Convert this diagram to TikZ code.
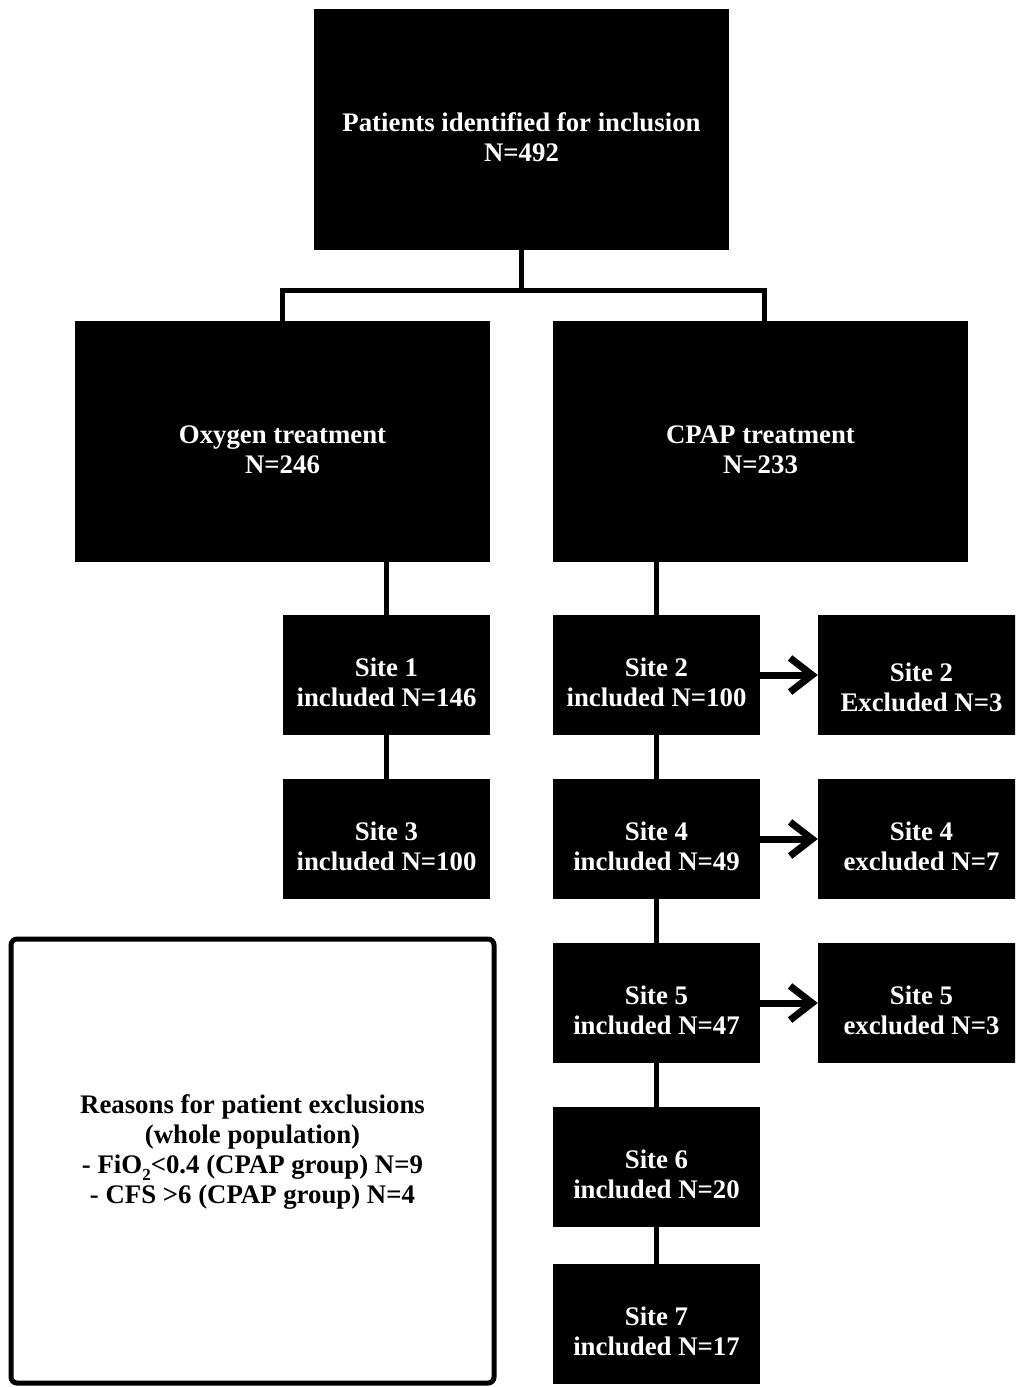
\documentclass[tikz,border=0pt]{standalone}
\usepackage{fontspec}
\setmainfont{Liberation Serif}
\usetikzlibrary{arrows.meta}

\begin{document}
\begin{tikzpicture}[x=1pt, y=-1pt,
	blackbox/.style={fill=black, text=white, align=center, inner sep=0pt,
		font=\bfseries\fontsize{26.8}{30}\selectfont, text height=63pt, text depth=0pt},
	bigbox/.style={blackbox, minimum width=415pt, minimum height=241pt},
	sitebox/.style={blackbox, minimum width=207pt, minimum height=120pt},
	link/.style={draw=black, line width=5pt},
	exclarrow/.style={draw=black, line width=7pt, -{Straight Barb[length=22pt,width=34pt]}}]
		\path[use as bounding box, clip] (0,0) rectangle (1015,1387);
		% groups
		\node[bigbox] (patients) at (521.5,129.5) {Patients identified for inclusion\\N=492};
		\node[bigbox] (oxygen) at (282.5,441.5) {Oxygen treatment\\N=246};
		\node[bigbox] (cpap) at (760.5,441.5) {CPAP treatment\\N=233};
		\coordinate (split) at (524,290);
		% sites
		\node[sitebox] (site1) at (386.5,675) {Site 1\\included N=146};
		\node[sitebox] (site3) at (386.5,839) {Site 3\\included N=100};
		\node[sitebox] (site2) at (656.5,675) {Site 2\\included N=100};
		\node[sitebox] (site4) at (656.5,839) {Site 4\\included N=49};
		\node[sitebox] (site5) at (656.5,1003) {Site 5\\included N=47};
		\node[sitebox] (site6) at (656.5,1167) {Site 6\\included N=20};
		\node[sitebox] (site7) at (656.5,1324) {Site 7\\included N=17};
		\node[sitebox, text height=73pt] (excl2) at (921.5,675) {Site 2\\Excluded N=3};
		\node[sitebox] (excl4) at (921.5,839) {Site 4\\excluded N=7};
		\node[sitebox] (excl5) at (921.5,1003) {Site 5\\excluded N=3};
		% exclusions
		\node[draw=black, line width=5pt, rounded corners=6pt, fill=white, minimum width=483pt, minimum height=444pt] (legend) at (252.5,1161) {};
		\node[align=center, inner sep=0pt, font=\bfseries\fontsize{26.8}{30}\selectfont, text height=108pt, text depth=0pt] (reasons) at (252.5,1149.5)
			{Reasons for patient exclusions\\(whole population)\\- FiO\raisebox{-7pt}{\fontsize{17}{17}\selectfont 2}<0.4 (CPAP group) N=9\\- CFS >6 (CPAP group) N=4};
		% connectors
		\draw[link] (patients.south) -- (patients.south |- split);
		\draw[link] (oxygen.north) |- (split) -| ([xshift=4pt]cpap.north);
		\draw[link] (site1.north |- oxygen.south) -- (site1.north);
		\draw[link] (site1.south) -- (site3.north);
		\draw[link] (site2.north |- cpap.south) -- (site2.north);
		\draw[link] (site2.south) -- (site4.north);
		\draw[link] (site4.south) -- (site5.north);
		\draw[link] (site5.south) -- (site6.north);
		\draw[link] (site6.south) -- (site7.north);
		\draw[exclarrow] (site2.east) -- (excl2.west);
		\draw[exclarrow] (site4.east) -- (excl4.west);
		\draw[exclarrow] (site5.east) -- (excl5.west);
	\end{tikzpicture}
\end{document}
